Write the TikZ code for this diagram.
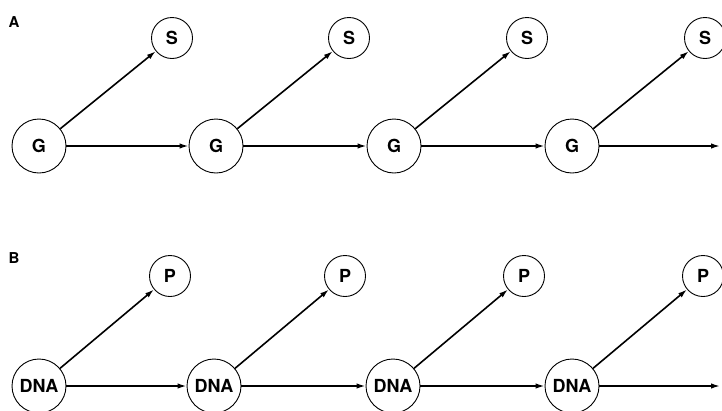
\documentclass[tikz,border=0pt]{standalone}
\usepackage{fontspec}
\setmainfont{TeX Gyre Heros}
\usetikzlibrary{arrows.meta, positioning, calc}

\tikzset{
  big/.style={draw, circle, line width=0.9pt, minimum size=54pt, inner sep=0pt, font=\bfseries\fontsize{18}{22}\selectfont},
  small/.style={draw, circle, line width=0.9pt, minimum size=41pt, inner sep=0pt, font=\bfseries\fontsize{18}{22}\selectfont},
  link/.style={line width=1.6pt, -{Latex[length=9pt, width=5.5pt]}},
  panel/.style={font=\bfseries\fontsize{15}{17}\selectfont}
}

\begin{document}
\begin{tikzpicture}[x=1pt, y=-1pt]
  \useasboundingbox (0,0) rectangle (722,410);

  % panel labels
  \node[panel] (lblA) at (14,22) {A};
  \node[panel] (lblB) at (14,258) {B};

  % row A: genes and their products
  \foreach \i/\x in {1/39, 2/216, 3/394, 4/572} {
    \node[big] (g\i) at (\x,146) {G};
    \node[small] (s\i) at (\x+133,38) {S};
    \draw[link] (g\i) -- (s\i);
  }
  \draw[link] (g1) -- (g2);
  \draw[link] (g2) -- (g3);
  \draw[link] (g3) -- (g4);
  \coordinate (endA) at (720,146);
  \draw[link] (g4) -- (endA);

  % row B: DNA and proteins
  \foreach \i/\x in {1/39, 2/214, 3/393, 4/572} {
    \node[big] (d\i) at (\x,386) {DNA};
    \node[small] (p\i) at (\x+131,276) {P};
    \draw[link] (d\i) -- (p\i);
  }
  \draw[link] (d1) -- (d2);
  \draw[link] (d2) -- (d3);
  \draw[link] (d3) -- (d4);
  \coordinate (endB) at (720,386);
  \draw[link] (d4) -- (endB);
\end{tikzpicture}
\end{document}
